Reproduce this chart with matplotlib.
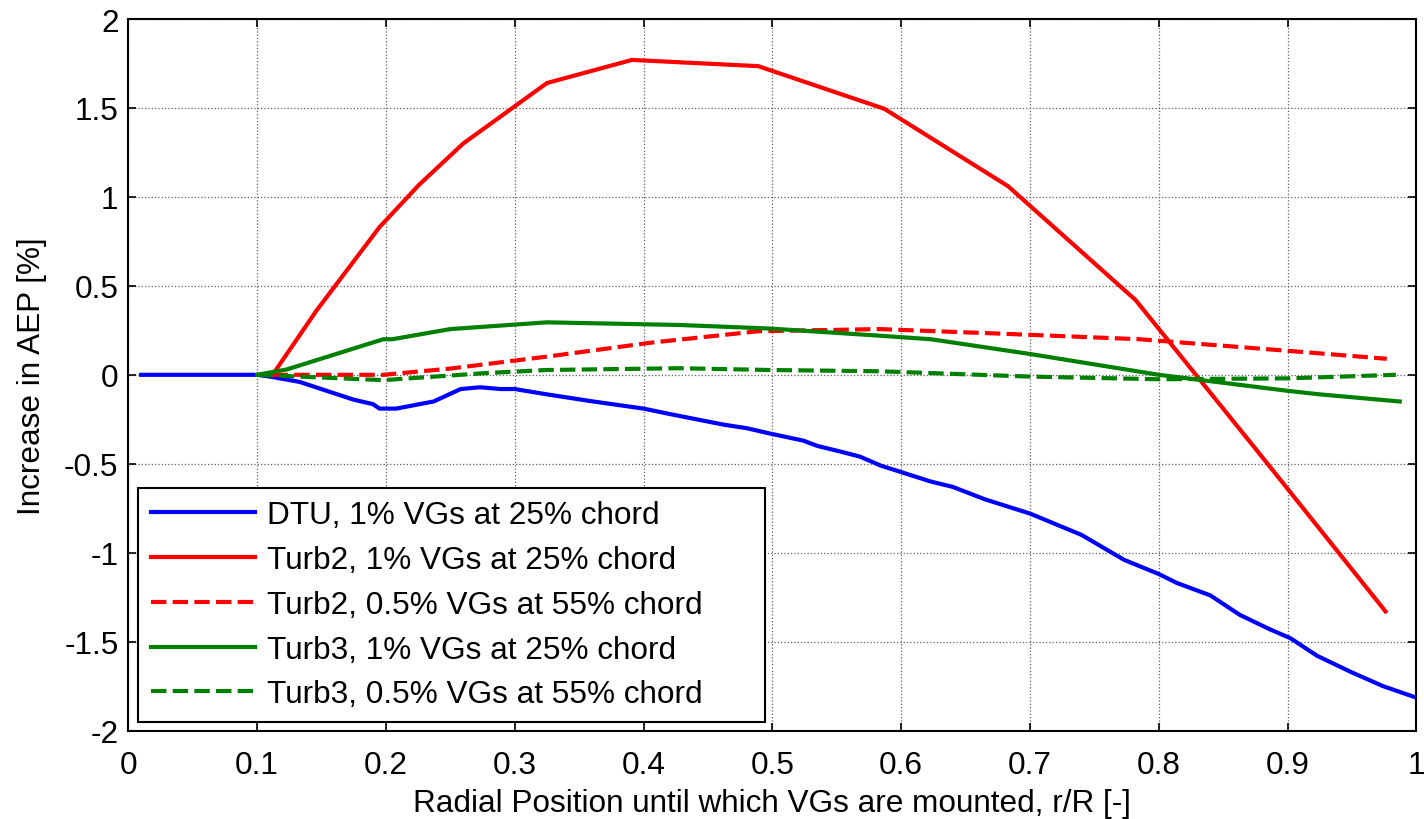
import numpy as np
import matplotlib.pyplot as plt

plt.rcParams['font.family'] = ['Liberation Sans', 'Arial', 'DejaVu Sans']

# DTU, 1% VGs at 25% chord
dtu_x = [0.01, 0.10, 0.11, 0.133, 0.154, 0.175, 0.19, 0.195, 0.208, 0.237, 0.258,
         0.273, 0.289, 0.30, 0.325, 0.361, 0.40, 0.42, 0.462, 0.48, 0.498, 0.524,
         0.535, 0.552, 0.568, 0.584, 0.623, 0.64, 0.665, 0.70, 0.74, 0.773, 0.80,
         0.814, 0.84, 0.863, 0.886, 0.902, 0.923, 0.949, 0.974, 0.998]
dtu_y = [0.0, 0.0, -0.01, -0.04, -0.09, -0.14, -0.165, -0.19, -0.19, -0.15, -0.08,
         -0.07, -0.08, -0.08, -0.11, -0.15, -0.19, -0.22, -0.28, -0.30, -0.33, -0.37,
         -0.40, -0.43, -0.46, -0.51, -0.60, -0.63, -0.70, -0.78, -0.90, -1.04, -1.12,
         -1.17, -1.24, -1.35, -1.43, -1.48, -1.58, -1.67, -1.75, -1.81]

# Turb2, 1% VGs at 25% chord
t2a_x = [0.112, 0.146, 0.195, 0.226, 0.260, 0.325, 0.391, 0.489, 0.587, 0.683, 0.782, 0.88, 0.976]
t2a_y = [0.0, 0.36, 0.83, 1.07, 1.30, 1.64, 1.77, 1.735, 1.495, 1.06, 0.42, -0.46, -1.33]

# Turb2, 0.5% VGs at 55% chord
t2b_x = [0.112, 0.198, 0.25, 0.328, 0.405, 0.489, 0.583, 0.682, 0.785, 0.90, 0.977]
t2b_y = [0.0, 0.0, 0.035, 0.105, 0.18, 0.245, 0.257, 0.23, 0.20, 0.135, 0.09]

# Turb3, 1% VGs at 25% chord
t3a_x = [0.1, 0.123, 0.198, 0.205, 0.25, 0.325, 0.428, 0.498, 0.583, 0.623, 0.70, 0.80, 0.90, 0.925, 0.987]
t3a_y = [0.0, 0.03, 0.20, 0.20, 0.257, 0.295, 0.28, 0.26, 0.22, 0.20, 0.117, 0.0, -0.09, -0.11, -0.15]

# Turb3, 0.5% VGs at 55% chord
t3b_x = [0.1, 0.198, 0.278, 0.325, 0.428, 0.498, 0.583, 0.70, 0.80, 0.90, 0.984]
t3b_y = [0.0, -0.03, 0.01, 0.027, 0.037, 0.027, 0.02, -0.01, -0.025, -0.02, 0.0]

labels = ['DTU, 1% VGs at 25% chord',
          'Turb2, 1% VGs at 25% chord',
          'Turb2, 0.5% VGs at 55% chord',
          'Turb3, 1% VGs at 25% chord',
          'Turb3, 0.5% VGs at 55% chord']

fs = 22.7
fig = plt.figure(figsize=(14.24, 8.2), dpi=100)
ax = fig.add_axes([0.0901, 0.1078, 0.9046, 0.8678])

dash = (3.7, 1.5)
ax.plot(dtu_x, dtu_y, color=(0, 0, 1), lw=3, label=labels[0])
ax.plot(t2a_x, t2a_y, color=(1, 0, 0), lw=3, label=labels[1])
ax.plot(t2b_x, t2b_y, color=(1, 0, 0), lw=3, ls=(0, dash), label=labels[2])
ax.plot(t3a_x, t3a_y, color=(0, 0.5, 0), lw=3, label=labels[3])
ax.plot(t3b_x, t3b_y, color=(0, 0.5, 0), lw=3, ls=(0, dash), label=labels[4])

ax.set_xlim(0, 1)
ax.set_ylim(-2, 2)
ax.set_xticks(np.arange(0, 1.01, 0.1))
ax.set_xticklabels(['0', '0.1', '0.2', '0.3', '0.4', '0.5', '0.6', '0.7', '0.8', '0.9', '1'])
ax.set_yticks(np.arange(-2, 2.01, 0.5))
ax.set_yticklabels(['-2', '-1.5', '-1', '-0.5', '0', '0.5', '1', '1.5', '2'])
ax.tick_params(direction='in', top=True, right=True, length=6, width=1.2,
               labelsize=fs)
ax.tick_params(axis='x', pad=14)
ax.tick_params(axis='y', pad=7)
ax.grid(True, ls=':', color='#606060', lw=0.9)
for s in ax.spines.values():
    s.set_linewidth(1.5)

ax.set_xlabel('Radial Position until which VGs are mounted, r/R [-]', fontsize=fs, labelpad=6)
ax.set_ylabel('Increase in AEP [%]', fontsize=fs, labelpad=12)

leg = ax.legend(loc='lower left', bbox_to_anchor=(0.0075, 0.012, 0.487, 0.32),
                mode='expand', fontsize=fs, handlelength=3.3, handletextpad=0.4,
                borderpad=0.4, labelspacing=0.47, fancybox=False, framealpha=1,
                edgecolor='black', borderaxespad=0)
leg.get_frame().set_linewidth(1.5)

fig.savefig('out.png', dpi=100)
